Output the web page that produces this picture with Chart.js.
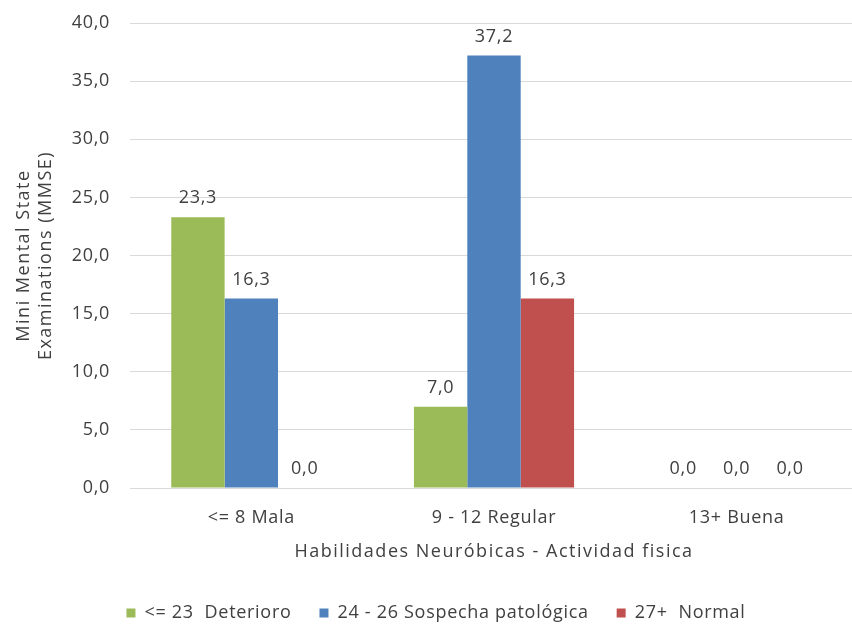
<!DOCTYPE html>
<html>
<head>
<meta charset="utf-8">
<script src="https://cdn.jsdelivr.net/npm/chart.js@4/dist/chart.umd.min.js"></script>
<style>
  html, body { margin: 0; padding: 0; background: #fff; overflow: hidden; }
  #wrap { position: relative; width: 860px; height: 632px; }
</style>
</head>
<body>
<div id="wrap"><canvas id="chart"></canvas></div>
<script>
// Activity level groups on the x axis
const categories = ['<= 8 Mala', '9 - 12 Regular', '13+ Buena'];

// MMSE result groups (series)
const seriesNames = ['<= 23  Deterioro', '24 - 26 Sospecha patológica', '27+  Normal'];
const deterioro = [23.3, 7.0, 0.0];
const sospecha = [16.3, 37.2, 0.0];
const normal = [0.0, 16.3, 0.0];

const yTicks = [0, 5, 10, 15, 20, 25, 30, 35, 40];

const colors = ['#9BBB59', '#4F81BD', '#C0504D'];
const FONT = '"Open Sans", "Noto Sans", sans-serif';
const TEXT = '#404040';
const BASE_SPACING = '0.7px';
const TITLE_SPACING = '1.5px';

const fmt = v => v.toFixed(1).replace('.', ',');

// Slightly looser tracking for all chart text
const textSpacing = {
  id: 'textSpacing',
  beforeUpdate(chart) { chart.ctx.letterSpacing = BASE_SPACING; },
  beforeDraw(chart) { chart.ctx.letterSpacing = BASE_SPACING; },
  afterLayout(chart) {
    // nudge the legend row a little to the right
    const lg = chart.legend;
    if (lg) { lg.left += 7; lg.right += 7; }
  }
};

// Axis titles get wider tracking than tick labels
function widenTitle(scale) {
  if (scale._wideTitle) return;
  scale._wideTitle = true;
  const orig = scale.drawTitle;
  scale.drawTitle = function () {
    const ctx = this.ctx;
    ctx.save();
    ctx.letterSpacing = TITLE_SPACING;
    orig.apply(this, arguments);
    ctx.restore();
  };
}

// Value labels drawn above each bar
const valueLabels = {
  id: 'valueLabels',
  afterDatasetsDraw(chart) {
    const ctx = chart.ctx;
    ctx.save();
    ctx.font = '18px ' + FONT;
    ctx.fillStyle = TEXT;
    ctx.textAlign = 'center';
    ctx.textBaseline = 'middle';
    chart.data.datasets.forEach((ds, i) => {
      const meta = chart.getDatasetMeta(i);
      meta.data.forEach((bar, j) => {
        ctx.fillText(fmt(ds.data[j]), bar.x, bar.y - 19);
      });
    });
    ctx.restore();
  }
};

new Chart(document.getElementById('chart'), {
  type: 'bar',
  data: {
    labels: categories,
    datasets: [
      { label: seriesNames[0], data: deterioro, backgroundColor: colors[0] },
      { label: seriesNames[1], data: sospecha, backgroundColor: colors[1] },
      { label: seriesNames[2], data: normal, backgroundColor: colors[2] }
    ]
  },
  options: {
    responsive: true,
    maintainAspectRatio: false,
    animation: false,
    layout: { padding: { top: 23, left: 0, right: 2, bottom: 0 } },
    datasets: { bar: { categoryPercentage: 0.66, barPercentage: 1.0 } },
    scales: {
      x: {
        afterFit(scale) { scale.height = 88; widenTitle(scale); },
        grid: { display: false, drawTicks: false },
        border: { display: true, color: '#d9d9d9' },
        ticks: { color: TEXT, font: { family: FONT, size: 18 }, padding: 19 },
        title: {
          display: true,
          text: 'Habilidades Neuróbicas - Actividad fisica',
          color: TEXT,
          font: { family: FONT, size: 18 },
          padding: { top: 0, bottom: 13 }
        }
      },
      y: {
        min: 0,
        max: 40,
        afterBuildTicks(scale) { scale.ticks = yTicks.map(v => ({ value: v })); },
        afterFit(scale) {
          scale.width = 130;
          scale.paddingTop = 0;
          scale.paddingBottom = 0;
          widenTitle(scale);
        },
        grid: { color: '#d9d9d9', drawTicks: false },
        border: { display: false },
        ticks: {
          color: TEXT,
          font: { family: FONT, size: 18 },
          padding: 20,
          callback: v => fmt(v)
        },
        title: {
          display: true,
          text: ['Mini Mental State', 'Examinations (MMSE)'],
          color: TEXT,
          font: { family: FONT, size: 18, lineHeight: 1.2 },
          padding: { top: 13, bottom: 0 }
        }
      }
    },
    plugins: {
      legend: {
        position: 'bottom',
        labels: {
          color: TEXT,
          font: { family: FONT, size: 18 },
          boxWidth: 9,
          boxHeight: 9,
          padding: 28
        }
      },
      tooltip: { enabled: false }
    }
  },
  plugins: [textSpacing, valueLabels]
});
</script>
</body>
</html>
